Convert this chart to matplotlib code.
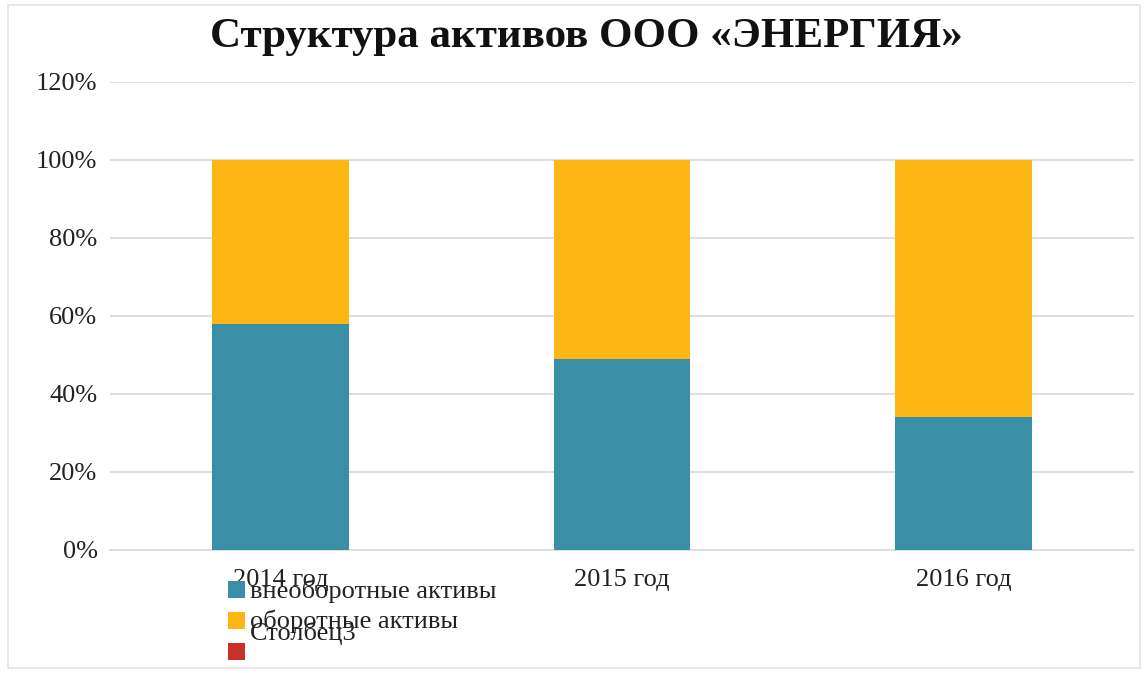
import matplotlib
matplotlib.use("Agg")
import matplotlib.pyplot as plt
from matplotlib.patches import Rectangle
import numpy as np

# Data
years = ["2014 год", "2015 год", "2016 год"]
series_names = ["внеоборотные активы", "оборотные активы", "Столбец3"]
non_current = [0.58, 0.49, 0.34]
current = [0.42, 0.51, 0.66]
column3 = [0.0, 0.0, 0.0]
series_colors = ["#3A8EA5", "#FDB714", "#C8302C"]
y_ticks = [0.0, 0.2, 0.4, 0.6, 0.8, 1.0, 1.2]

W, H = 1144, 673
plt.rcParams["font.family"] = ["Liberation Serif", "DejaVu Serif"]

fig = plt.figure(figsize=(W / 100, H / 100), dpi=100)
fig.patch.set_facecolor("white")

def fx(px):
    return px / W

def fy(py):
    return 1 - py / H

# Chart-area frame
fig.patches.append(Rectangle((fx(8), fy(668)), fx(1140) - fx(8), fy(5) - fy(668),
                             transform=fig.transFigure, fill=False,
                             edgecolor="#e4e4e4", linewidth=1.2))

ax = fig.add_axes([fx(110), fy(550), fx(1134) - fx(110), fy(82) - fy(550)])
x = np.arange(len(years))
width = 0.4
bottom = np.zeros(len(years))
for vals, color, name in zip([non_current, current, column3], series_colors, series_names):
    ax.bar(x, vals, width, bottom=bottom, color=color, label=name, zorder=3)
    bottom = bottom + np.array(vals)

ax.set_xlim(-0.5, len(years) - 0.5)
ax.set_ylim(0, 1.2)
ax.set_yticks(y_ticks)
ax.set_yticklabels([f"{int(round(t * 100))}%" for t in y_ticks], fontsize=19, color="#222222")
ax.set_xticks(x)
ax.set_xticklabels(years, fontsize=19, color="#222222")
ax.tick_params(axis="both", length=0)
ax.tick_params(axis="y", pad=9)
ax.tick_params(axis="x", pad=14)
ax.yaxis.grid(True, color="#d9d9d9", linewidth=1.2, zorder=0)
for side in ["top", "right", "left"]:
    ax.spines[side].set_visible(False)
ax.spines["bottom"].set_color("#d9d9d9")
ax.spines["bottom"].set_linewidth(1.2)
ax.set_facecolor("white")

fig.text(fx(586), fy(47), "Структура активов ООО «ЭНЕРГИЯ»", ha="center", va="baseline",
         fontsize=31, fontweight="bold", color="#111111")

# Legend drawn in the lower-left corner of the chart area
legend_rows = [(589, 598), (620, 628), (651, 640)]
for (sq_y, txt_y), color, name in zip(legend_rows, series_colors, series_names):
    fig.patches.append(Rectangle((fx(228), fy(sq_y + 9)), fx(17), fy(0) - fy(17),
                                 transform=fig.transFigure, facecolor=color, edgecolor="none"))
    fig.text(fx(250), fy(txt_y), name, ha="left", va="baseline", fontsize=19, color="#222222")

fig.savefig("out.png", dpi=100)
